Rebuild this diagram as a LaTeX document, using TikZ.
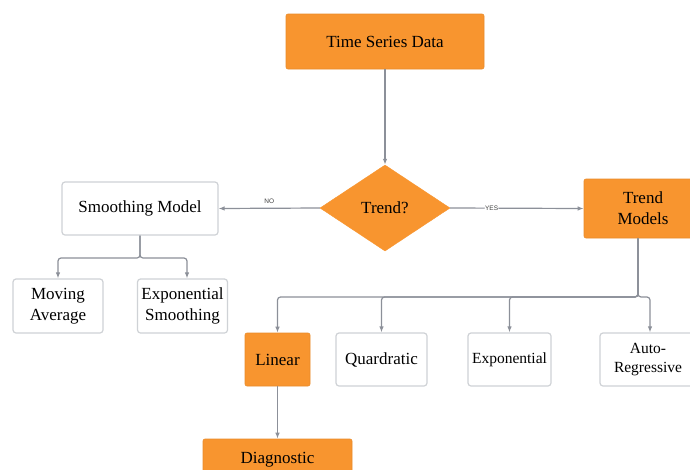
\documentclass[tikz,border=0pt]{standalone}
\usepackage{fontspec}
\setmainfont{Liberation Serif}
\newfontfamily\smallsans{Liberation Sans}
\usetikzlibrary{shapes.geometric,arrows.meta}
\definecolor{orng}{HTML}{F8952F}
\definecolor{edgegray}{HTML}{8C9099}
\definecolor{boxgray}{HTML}{CFD2D6}
\tikzset{
  obox/.style={draw=orng!90!black!60!orng, fill=orng, rounded corners=2pt, inner sep=0pt, align=center, font=\fontsize{17}{21}\selectfont, line width=0.6pt},
  wbox/.style={draw=boxgray, fill=white, rounded corners=3pt, inner sep=0pt, align=center, font=\fontsize{17}{21}\selectfont, line width=1.2pt},
  conn/.style={draw=edgegray, line width=1.2pt, -{Latex[length=6pt,width=4.5pt]}, rounded corners=3pt},
  tiny/.style={font=\smallsans\fontsize{6.5}{7}\selectfont, text=black!75, inner sep=1pt}
}
\begin{document}
\begin{tikzpicture}[x=1pt,y=-1pt]
\useasboundingbox (0,0) rectangle (690,469);
\clip (0,0) rectangle (690,469);
\fill[white] (0,0) rectangle (690,469);
\node[obox, minimum width=198, minimum height=55] (ts) at (385,41.5) {Time Series Data};
\node[draw=orng, fill=orng, shape=diamond, inner sep=0pt, minimum width=130, minimum height=86, font=\fontsize{17}{21}\selectfont] (trend) at (385,208) {Trend?};
\node[wbox, minimum width=156, minimum height=53] (smooth) at (140,208.5) {Smoothing Model};
\node[obox, minimum width=118, minimum height=59] (tm) at (643,208.5) {Trend\\Models};
\node[wbox, minimum width=90, minimum height=54] (ma) at (58,306) {Moving\\Average};
\node[wbox, minimum width=90, minimum height=54] (es) at (182.5,306) {Exponential\\Smoothing};
\node[obox, minimum width=65, minimum height=53] (lin) at (277.5,359.5) {Linear};
\node[wbox, minimum width=91, minimum height=53] (quad) at (381.5,359.5) {Quardratic};
\node[wbox, minimum width=83, minimum height=53, font=\fontsize{15.5}{19}\selectfont] (expo) at (509.5,359.5) {Exponential};
\node[wbox, minimum width=96, minimum height=53, font=\fontsize{15.5}{19}\selectfont] (ar) at (648,359.5) {Auto-\\Regressive};
\node[obox, minimum width=149, minimum height=58] (diag) at (277.5,468) {Diagnostic\\\mbox{}};
\coordinate (sb) at (140,258);
\coordinate (tb) at (638,297);
% connectors
\draw[conn] (ts.south) -- (trend.north);
\draw[conn] (trend.west) -- node[tiny, pos=0.5, above=3pt] {NO} (smooth.east);
\draw[conn] (trend.east) -- node[tiny, pos=0.31, fill=white, inner sep=0.5pt] {YES} (tm.west);
\draw[conn] (smooth.south) -- (sb) -| (ma.north);
\draw[conn] (smooth.south) -- (sb) -| ([xshift=4.5pt]es.north);
\draw[conn] (tm.south -| tb) -- (tb) -| (lin.north);
\draw[conn] (tm.south -| tb) -- (tb) -| (quad.north);
\draw[conn] (tm.south -| tb) -- (tb) -| (expo.north);
\draw[conn] (tm.south -| tb) -- (tb) -| ([xshift=2pt]ar.north);
\draw[conn] (lin.south) -- (diag.north);
\end{tikzpicture}
\end{document}
